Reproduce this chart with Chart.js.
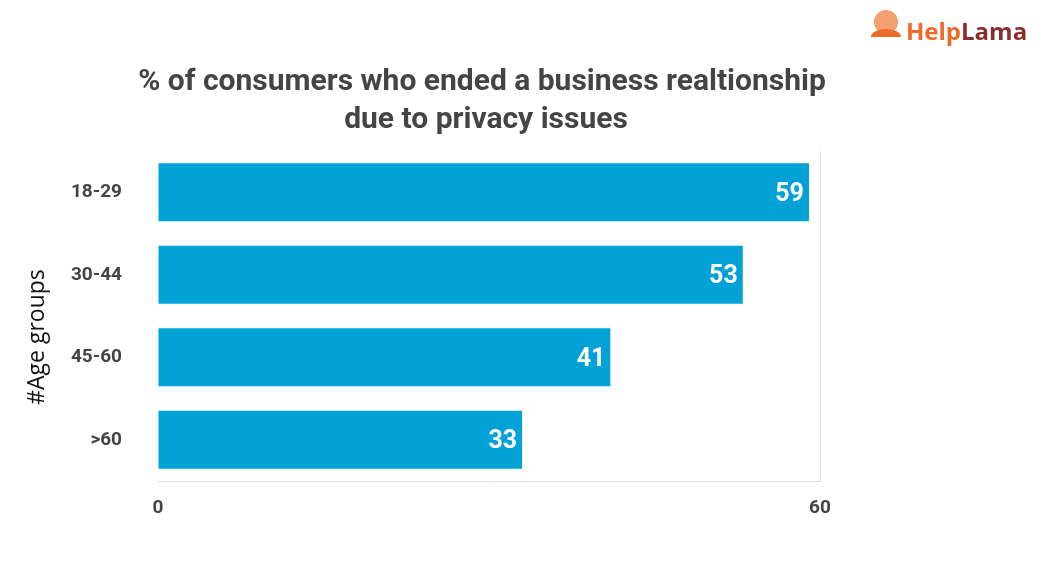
<!DOCTYPE html>
<html><head><meta charset="utf-8">
<script src="https://cdn.jsdelivr.net/npm/chart.js@4"></script>
<style>body{margin:0;background:#fff}#w{width:1047px;height:562px}</style>
</head><body><div id="w"><canvas id="c"></canvas></div>
<script>
const ageGroups = ["18-29", "30-44", "45-60", ">60"];
const shares = [59, 53, 41, 33];
const xTicks = [0, 60];

const overlay = {
  id: "overlay",
  afterDatasetsDraw(chart) {
    const ctx = chart.ctx;
    ctx.save();
    ctx.fillStyle = "#fff";
    ctx.font = "bold 25px Roboto";
    ctx.textAlign = "right";
    ctx.textBaseline = "middle";
    chart.getDatasetMeta(0).data.forEach((bar, i) => {
      ctx.fillText(shares[i], bar.x - 5, bar.y + 2);
    });
    ctx.fillStyle = "#444";
    ctx.font = "bold 30px Roboto";
    ctx.textAlign = "center";
    ctx.fillText("% of consumers who ended a business realtionship", 482, 82);
    ctx.fillText("due to privacy issues", 486, 120);
    // y axis title
    ctx.save();
    ctx.translate(37, 337);
    ctx.rotate(-Math.PI / 2);
    ctx.fillStyle = "#111";
    ctx.font = "23px 'Open Sans'";
    ctx.fillText("#Age groups", 0, 0);
    ctx.restore();
    ctx.font = "bold 24px 'Open Sans'";
    ctx.textAlign = "left";
    ctx.fillStyle = "#ee6a2a";
    ctx.fillText("Help", 906, 33);
    ctx.fillStyle = "#8b2c2c";
    ctx.fillText("Lama", 906 + ctx.measureText("Help").width, 33);
    ctx.fillStyle = "#f5a070";
    ctx.beginPath(); ctx.arc(886, 22, 12, 0, Math.PI * 2); ctx.fill();
    ctx.fillStyle = "#ee6a2a";
    ctx.beginPath(); ctx.ellipse(886, 37, 15, 8, 0, Math.PI, 0); ctx.fill();
    ctx.restore();
  }
};

new Chart(document.getElementById("c"), {
  type: "bar",
  data: {
    labels: ageGroups,
    datasets: [{ data: shares, backgroundColor: "#03a2d6", barPercentage: 0.86, categoryPercentage: 0.82 }]
  },
  options: {
    indexAxis: "y",
    responsive: true,
    maintainAspectRatio: false,
    animation: false,
    layout: { padding: { top: 151, left: 0, right: 227, bottom: 0 } },
    plugins: { legend: { display: false }, tooltip: { enabled: false } },
    scales: {
      x: {
        min: 0, max: 60,
        afterBuildTicks: s => { s.ticks = xTicks.map(v => ({ value: v })); },
        afterFit: s => { s.height = 81; },
        grid: { color: ctx => ctx.tick && ctx.tick.value === 60 ? "#e6e6e6" : "transparent", drawTicks: false },
        border: { display: true, color: "#ddd", width: 1 },
        ticks: { padding: 16, color: "#444", font: { family: "Roboto", weight: "bold", size: 19 } }
      },
      y: {
        afterFit: s => { s.width = 158; },
        grid: { display: false },
        border: { display: false },
        ticks: { padding: 28, color: "#444", font: { family: "Roboto", weight: "bold", size: 19 } }
      }
    }
  },
  plugins: [overlay]
});
</script></body></html>
